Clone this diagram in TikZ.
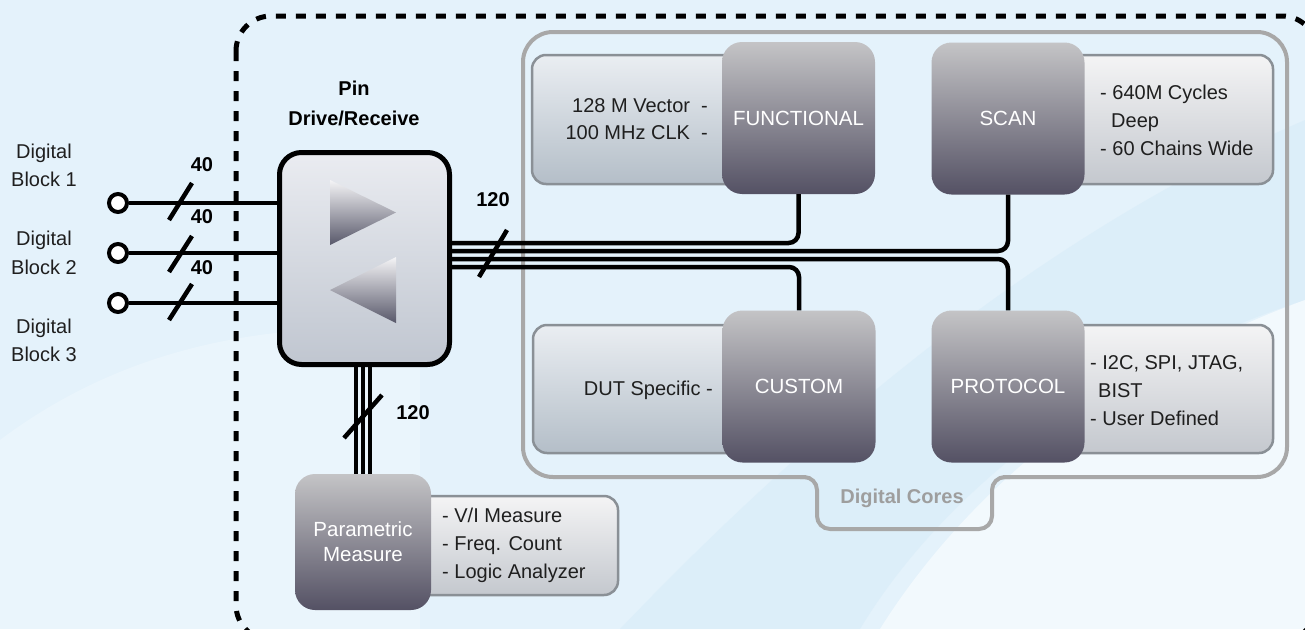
\documentclass[tikz,border=0pt]{standalone}
\usepackage{fontspec}
\setmainfont{Liberation Sans}
\definecolor{bgc}{RGB}{228,242,251}
\definecolor{bgband}{RGB}{206,231,247}
\definecolor{ptop}{RGB}{234,238,242}
\definecolor{pbot}{RGB}{180,190,200}
\definecolor{prtop}{RGB}{244,244,245}
\definecolor{prbot}{RGB}{196,200,206}
\definecolor{pborder}{RGB}{138,144,150}
\definecolor{dtop}{RGB}{196,196,198}
\definecolor{dbot}{RGB}{84,81,100}
\definecolor{pintop}{RGB}{234,236,241}
\definecolor{pinbot}{RGB}{192,198,208}
\definecolor{ttop}{RGB}{244,244,246}
\definecolor{tbot}{RGB}{88,88,106}
\definecolor{framegray}{RGB}{168,168,168}
\definecolor{labelgray}{RGB}{158,158,158}
\begin{document}
\begin{tikzpicture}[x=1pt,y=-1pt,
  lbl/.style={font=\fontsize{20}{28}\selectfont, inner sep=0pt, text=black!88},
  lblb/.style={font=\fontsize{20}{30}\selectfont\bfseries, inner sep=0pt, text=black},
  panelL/.style={draw=pborder, line width=2.5pt, rounded corners=14pt, top color=ptop, bottom color=pbot, inner sep=0pt},
  panelR/.style={draw=pborder, line width=2.5pt, rounded corners=14pt, top color=prtop, bottom color=prbot, inner sep=0pt},
  darkbox/.style={rounded corners=20pt, top color=dtop, bottom color=dbot, minimum width=153pt, minimum height=152pt, inner sep=0pt, text=white, font=\fontsize{20.5}{25}\selectfont},
  pinbox/.style={draw=black, line width=5pt, rounded corners=22pt, top color=pintop, bottom color=pinbot, minimum width=170pt, minimum height=212pt, inner sep=0pt},
  port/.style={circle, draw=black, line width=4pt, fill=white, minimum size=18pt, inner sep=0pt},
  bus/.style={draw=black, line width=4.5pt},
  vbus/.style={draw=black, line width=4pt},
  frame/.style={draw=framegray, line width=4pt},
  boundary/.style={draw=black, line width=5pt, dash pattern=on 10pt off 10pt, rounded corners=35pt}
]
\useasboundingbox (0,0) rectangle (1305,629);
\clip (0,0) rectangle (1305,629);
% background
\fill[bgc] (0,0) rectangle (1305,629);
\fill[bgband, opacity=0.35] (620,629) .. controls (820,420) and (1050,230) .. (1305,120) -- (1305,300) .. controls (1120,360) and (950,480) .. (860,629) -- cycle;
\fill[white, opacity=0.55] (880,629) .. controls (980,470) and (1140,360) .. (1305,300) -- (1305,629) -- cycle;
\fill[white, opacity=0.25] (0,440) .. controls (120,350) and (260,320) .. (420,330) -- (420,629) -- (0,629) -- cycle;
% dashed outer boundary
\draw[boundary] (236,16) rectangle (1317,640);
% digital cores frame
\draw[frame, rounded corners=30pt] (806,477) -- (523,477) -- (523,32) -- (1287,32) -- (1287,477) -- (1003,477);
\draw[frame, rounded corners=13pt] (800,477) -- (817,477) -- (817,529) -- (992,529) -- (992,477) -- (1010,477);
\node[font=\fontsize{20}{24}\selectfont\bfseries, text=labelgray, inner sep=0pt] (dclbl) at (902,498) {Digital Cores};
% info panels
\node[panelL, minimum width=228pt, minimum height=129pt] (finfo) at (646,119.5) {};
\node[panelR, minimum width=213pt, minimum height=129pt] (sinfo) at (1166.5,119.5) {};
\node[panelL, minimum width=227pt, minimum height=128pt] (cinfo) at (646.5,389) {};
\node[panelR, minimum width=213pt, minimum height=128pt] (pinfo) at (1166.5,389) {};
\node[panelR, minimum width=208pt, minimum height=99pt] (minfo) at (514,545.5) {};
% info texts
\node[lbl, anchor=east, align=right] (ftxt) at (708,119.5) {128 M Vector\ \ -\\[-1pt]100 MHz CLK\ \ -};
\node[lbl, anchor=west, align=left] (stxt) at (1100,120) {- 640M Cycles\\\hspace*{11pt}Deep\\- 60 Chains Wide};
\node[lbl, anchor=east] (ctxt) at (713,390) {DUT Specific -};
\node[lbl, anchor=west, align=left] (ptxt) at (1090,390.5) {- I2C, SPI, JTAG,\\\hspace*{8pt}BIST\\- User Defined};
\node[lbl, anchor=west, align=left] (mtxt) at (442,545.5) {- V/I Measure\\- Freq. Count\\- Logic Analyzer};
% dark core boxes
\node[darkbox] (func) at (798.5,118) {FUNCTIONAL};
\node[darkbox] (scan) at (1008,118.5) {SCAN};
\node[darkbox] (custom) at (799,386.5) {CUSTOM};
\node[darkbox] (proto) at (1008,386.5) {PROTOCOL};
\node[darkbox, minimum width=136pt, minimum height=136pt, align=center] (param) at (363,542) {Parametric\\Measure};
% pin drive / receive
\node[pinbox] (pin) at (364.5,258.5) {};
\shade[top color=ttop, bottom color=tbot] (330,180) -- (396,212.5) -- (330,245) -- cycle;
\shade[top color=ttop, bottom color=tbot] (396,257) -- (330,290) -- (396,323) -- cycle;
\node[lblb, align=center] (pinlbl) at (354,103) {Pin\\Drive/Receive};
% digital blocks
\node[lbl, align=center, font=\fontsize{20}{28}\selectfont] (db1) at (44,165) {Digital\\Block 1};
\node[lbl, align=center, font=\fontsize{20}{29}\selectfont] (db2) at (44,252.5) {Digital\\Block 2};
\node[lbl, align=center, font=\fontsize{20}{28}\selectfont] (db3) at (44,340) {Digital\\Block 3};
\node[port] (c1) at (118,203) {};
\node[port] (c2) at (118,253) {};
\node[port] (c3) at (118,303) {};
\draw[bus] (c1) -- (c1 -| pin.west);
\draw[bus] (c2) -- (c2 -| pin.west);
\draw[bus] (c3) -- (c3 -| pin.west);
\draw[bus] (169,220) -- (192,183);
\draw[bus] (169,272) -- (192,236);
\draw[bus] (169,320) -- (192,284);
\node[lblb] (n40a) at (202,165) {40};
\node[lblb] (n40b) at (202,217) {40};
\node[lblb] (n40c) at (202,268) {40};
% bus to digital cores
\draw[bus, rounded corners=10pt] (pin.east |- 0,243) -- (func.south |- 0,243) -- (func.south);
\draw[bus, rounded corners=10pt] (pin.east |- 0,251) -- (scan.south |- 0,251) -- (scan.south);
\draw[bus, rounded corners=10pt] (pin.east |- 0,259) -- (proto.north |- 0,259) -- (proto.north);
\draw[bus, rounded corners=10pt] (pin.east |- 0,267) -- (custom.north |- 0,267) -- (custom.north);
\draw[bus] (479,277) -- (507,230);
\node[lblb] (n120a) at (493,200) {120};
% bus to parametric measure
\draw[vbus] (pin.south -| 356,0) -- (param.north -| 356,0);
\draw[vbus] (pin.south -| 363,0) -- (param.north -| 363,0);
\draw[vbus] (pin.south -| 370,0) -- (param.north -| 370,0);
\draw[bus] (344,438) -- (382,395);
\node[lblb] (n120b) at (413,413) {120};
\end{tikzpicture}
\end{document}
